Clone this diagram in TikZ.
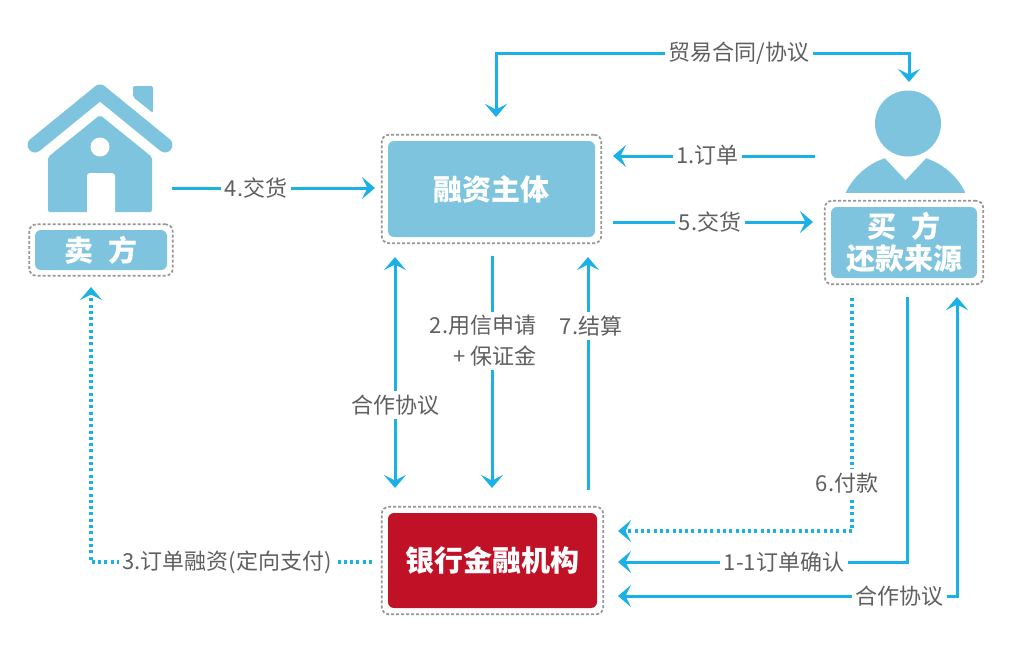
\documentclass[tikz,border=0pt]{standalone}
\usepackage{fontspec}
\setmainfont{Noto Sans CJK SC}
\usetikzlibrary{arrows.meta,fit}
\definecolor{iconblue}{RGB}{127,196,222}
\definecolor{bankred}{RGB}{192,17,38}
\definecolor{arrblue}{RGB}{27,177,230}
\definecolor{txtgray}{RGB}{95,95,95}
\definecolor{dashgray}{RGB}{150,150,150}
\begin{document}
\begin{tikzpicture}[x=1pt,y=-1pt,
  tip/.tip={Stealth[length=13pt,width=22pt,inset=5.5pt]},
  lbl/.style={text=txtgray,font=\fontsize{22}{31}\selectfont,fill=white,inner sep=3.5pt},
  arr/.style={draw=arrblue,line width=3pt,-tip},
  dbl/.style={draw=arrblue,line width=3pt,tip-tip},
  dotarr/.style={draw=arrblue,line width=3.2pt,dash pattern=on 3pt off 3.3pt,-tip},
  mainbox/.style={rounded corners=6pt,text=white,inner sep=0pt,align=center,
    font=\bfseries\fontsize{29}{32}\selectfont},
  dashbox/.style={draw=dashgray,line width=1.7pt,dash pattern=on 3pt off 2pt,rounded corners=7pt,inner sep=6pt}]
\useasboundingbox (0,0) rectangle (1023,649);
% house
\fill[iconblue,rounded corners=2pt] (133,86) -- (153,86) -- (153,113) -- (133,97) -- cycle;
\draw[iconblue,line width=15pt,line cap=round,line join=round] (35,145) -- (100,92) -- (165,145);
\fill[iconblue,rounded corners=2pt] (100,115) -- (152,157) -- (152,212) -- (48,212) -- (48,157) -- cycle;
\fill[white] (87,213) [rounded corners=3pt] -- (87,173) -- (115,173) [sharp corners] -- (115,213) -- cycle;
\fill[white] (100,147) circle[radius=9.5pt];
% person
\begin{scope}
\clip (800,192) rectangle (1000,140);
\fill[iconblue] (905.5,221.3) circle[radius=66.3pt];
\end{scope}
\fill[white] (866,138) -- (905.5,180) -- (945,138) -- cycle;
\fill[iconblue] (908,123.5) circle[radius=33pt];
% boxes
\node[mainbox,fill=iconblue,minimum width=132pt,minimum height=40pt] (seller) at (101,250) {卖\hspace{0.5em}方};
\node[dashbox,inner sep=5.5pt,fit=(seller)] (sellerd) {};
\node[mainbox,fill=iconblue,minimum width=207pt,minimum height=96pt] (zt) at (491.5,189) {融资主体};
\node[dashbox,fit=(zt)] (ztd) {};
\node[mainbox,fill=bankred,minimum width=209pt,minimum height=95pt] (bank) at (492.5,560.5) {银行金融机构};
\node[dashbox,fit=(bank)] (bankd) {};
\node[mainbox,fill=iconblue,minimum width=146pt,minimum height=71pt] (buyer) at (904,242.5) {买\hspace{0.5em}方\\还款来源};
\node[dashbox,fit=(buyer)] (buyerd) {};
% connector end points
\coordinate (a1) at (496,117); \coordinate (a2) at (909,82);
\coordinate (b1) at (815,156); \coordinate (b2) at (613,156);
\coordinate (c1) at (613,222); \coordinate (c2) at (813,222);
\coordinate (d1) at (172,188); \coordinate (d2) at (375,188);
\coordinate (e1) at (395,257); \coordinate (e2) at (395,488);
\coordinate (f1) at (492,256); \coordinate (f2) at (492,488);
\coordinate (g1) at (588,490); \coordinate (g2) at (588,257);
\coordinate (h1) at (852,298); \coordinate (h2) at (618,531);
\coordinate (i1) at (907,297); \coordinate (i2) at (618,562);
\coordinate (j1) at (618,596); \coordinate (j2) at (957,297);
\coordinate (k1) at (372,562); \coordinate (k2) at (91,287);
% connectors
\draw[dbl] (a1) -- (a1 |- 0,53) -- (a2 |- 0,53) -- (a2);
\draw[arr] (b1) -- (b2);
\draw[arr] (c1) -- (c2);
\draw[arr] (d1) -- (d2);
\draw[dbl] (e1) -- (e2);
\draw[arr] (f1) -- (f2);
\draw[arr] (g1) -- (g2);
\draw[dotarr] (h1) |- (h2);
\draw[arr] (i1) |- (i2);
\draw[dbl] (j1) -| (j2);
\draw[dotarr] (k1) -| (k2);
% labels
\node[lbl] (la) at (739,53) {贸易合同/协议};
\node[lbl] (lb) at (707.5,155) {1.订单};
\node[lbl] (lc) at (710,222) {5.交货};
\node[lbl] (ld) at (256,188) {4.交货};
\node[lbl] (le) at (395,405) {合作协议};
\node[lbl,align=right,anchor=east] (lf) at (540,341) {2.用信申请\\+ 保证金};
\node[lbl] (lg) at (591,326) {7.结算};
\node[lbl] (lh) at (847,483) {6.付款};
\node[lbl] (li) at (784,562) {1-1订单确认};
\node[lbl] (lj) at (899,596) {合作协议};
\node[lbl] (lk) at (227,562) {3.订单融资(定向支付)};
\end{tikzpicture}
\end{document}
